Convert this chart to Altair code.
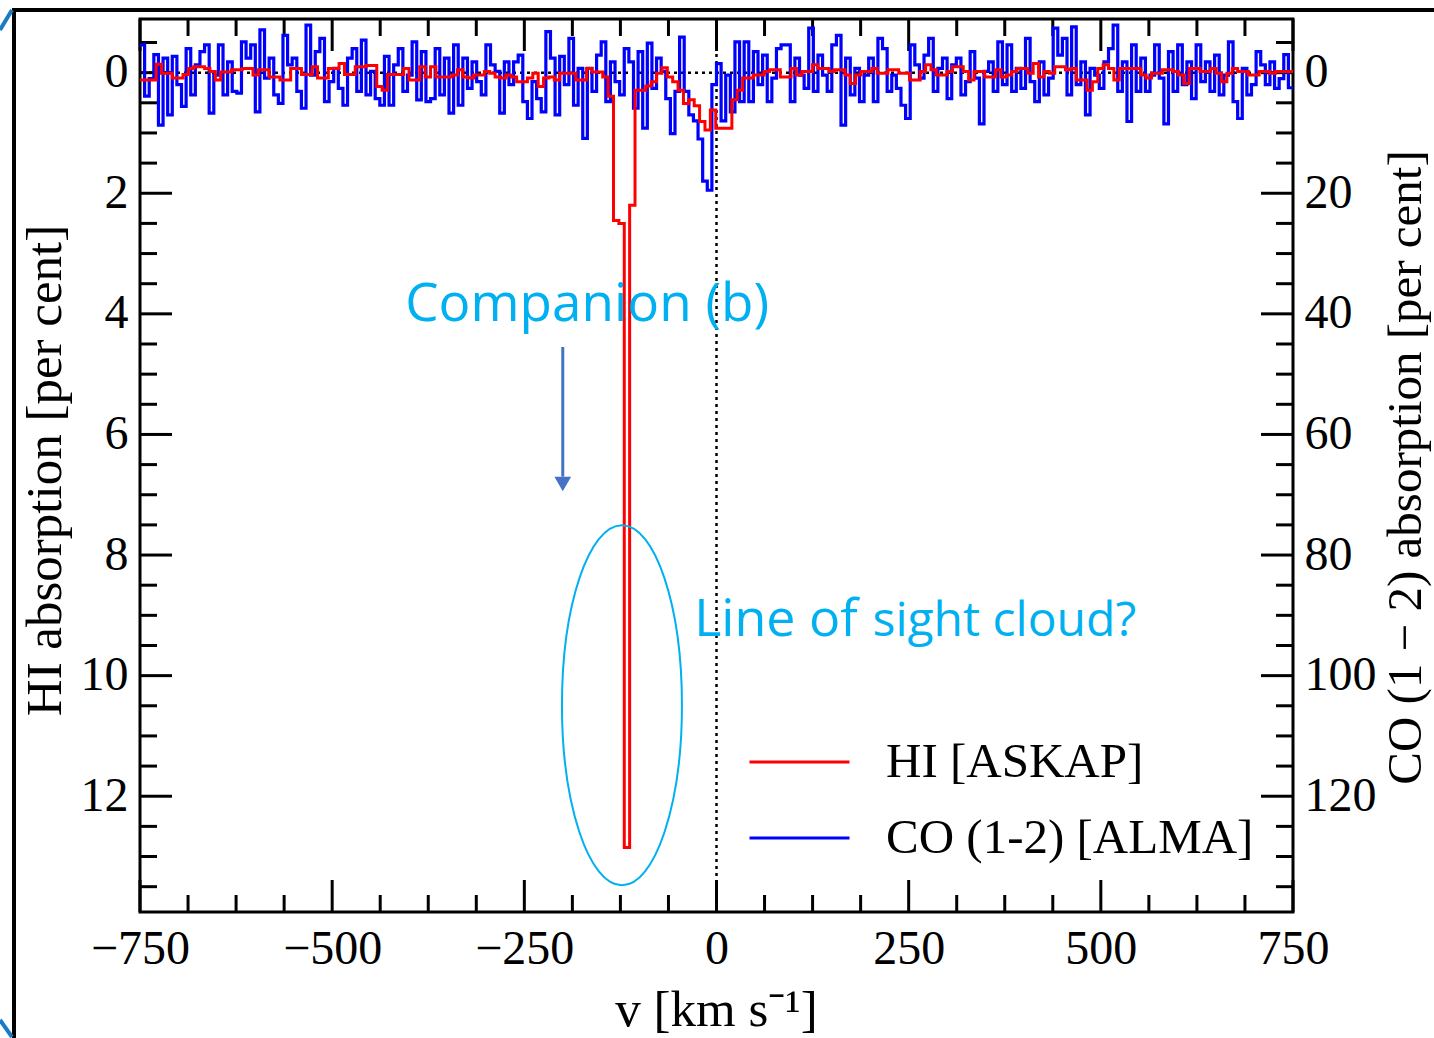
import altair as alt
import pandas as pd

# ---------------- layout ----------------
W, H = 1153, 893
V_MIN, V_MAX = -750, 750
Y_MIN, Y_MAX = -0.89, 13.92
SERIF = "Liberation Serif"
SANS = "Open Sans"

# ---------------- labels / ticks ----------------
HI_LABEL = "HI [ASKAP]"
CO_LABEL = "CO (1-2) [ALMA]"
X_TITLE = "v [km s\u207b\u00b9]"
LEFT_TITLE = "HI absorption [per cent]"
RIGHT_TITLE = "CO (1 \u2212 2) absorption [per cent]"

X_MAJOR = [-750, -500, -250, 0, 250, 500, 750]
X_MINOR = [-687.5, -625, -562.5, -437.5, -375, -312.5, -187.5, -125, -62.5,
           62.5, 125, 187.5, 312.5, 375, 437.5, 562.5, 625, 687.5]
Y_MAJOR = [0, 2, 4, 6, 8, 10, 12]
Y_MINOR = [-0.5, 0.5, 1, 1.5, 2.5, 3, 3.5, 4.5, 5, 5.5, 6.5, 7, 7.5, 8.5, 9, 9.5,
           10.5, 11, 11.5, 12.5, 13, 13.5]

# ---------------- HI [ASKAP] spectrum (per cent, 7 km/s channels from -750) ----------------
HI_DV = 7.0
HI_PART1 = [0.12, 0.12, 0.12, -0.14, 0.01, 0.01, 0.09, 0.09, 0.03, -0.07, -0.10, -0.10, -0.07, -0.02,
            0.12, -0.01, -0.01, -0.05, -0.05, -0.07, -0.07, 0.04, -0.05, -0.05, 0.07, 0.07, 0.12, 0.12,
            -0.07, -0.07, 0.03, 0.03, -0.10, 0.09, 0.09, -0.07, -0.07, -0.15, 0.03, 0.03, -0.10, -0.10,
            -0.12, -0.12, 0.23, 0.29, 0.03, 0.03, 0.03, -0.07, 0.12, 0.12, -0.10, 0.07]
HI_PART2 = [-0.10, 0.07, 0.07, 0.07, 0.04, -0.05, 0.07, 0.09, 0.04, 0.04, -0.02, 0.01, 0.07, 0.09,
            0.04, 0.07, 0.15, 0.15, 0.09, 0.01, 0.23, 0.09, 0.07, 0.12, 0.01, 0.01, 0.01, 0.12,
            0.12, -0.07, -0.01, -0.01, 0.07, 0.39, 2.45, 2.50, 12.85, 2.20, 0.29, 0.29, 0.22, 0.15,
            0.01, -0.08, 0.07, 0.15, 0.29, 0.51, 0.45, 0.55, 0.81, 0.95, 0.62, 0.92]
HI_PART3 = [0.92, 0.92, 0.45, 0.29, 0.09, 0.09, 0.04, 0.04, -0.02, -0.05, -0.05, 0.07, 0.07, -0.07,
            0.04, -0.02, -0.02, -0.13, -0.07, -0.07, -0.02, -0.05, -0.05, 0.04, 0.18, 0.04, -0.02,
            -0.02, -0.07, 0.01, 0.01, -0.05, -0.05, 0.01, 0.01, 0.12, 0.12, -0.02, -0.13, -0.05,
            0.04, 0.04, -0.02, -0.10, -0.10, -0.02, 0.12, -0.02, -0.02, 0.07, 0.07, -0.05, 0.07]
HI_PART4 = [0.04, -0.02, -0.07, -0.07, 0.01, -0.15, 0.07, -0.02, 0.01, -0.10, -0.10, -0.05, -0.07,
            0.12, 0.12, 0.29, 0.15, -0.07, -0.13, -0.07, 0.12, -0.07, -0.07, -0.07, -0.07, 0.04,
            0.09, 0.01, 0.01, -0.05, -0.05, -0.02, 0.04, 0.18, -0.07, -0.07, -0.02, -0.02, -0.07,
            0.01, 0.15, 0.01, -0.07, -0.02, -0.02, 0.04, 0.04, -0.02, -0.02, 0.01, -0.02, -0.02,
            -0.02, -0.02]

# ---------------- CO (1-2) [ALMA] spectrum (per cent, 6 km/s channels from -750) ----------------
CO_DV = 6.0
CO_PART1 = [-4.6, 3.9, 1.0, -3.0, 8.7, -2.4, 7.0, -2.7, 2.0, 5.6, -4.0, 3.7, -1.3, -3.5, -4.6, 6.7,
            0.4, -4.6, 3.7, -1.8, 3.1, 3.4, -5.1, -2.4, -4.6, 6.5, -7.1, 0.9, -2.4, 3.7, 5.1, -6.2,
            -1.3, -2.4, 3.1, 5.9, -7.9, 0.4, -3.5, -5.7, 4.8, 1.5, -0.7, 2.6, 5.4, -2.4, -4.0, 3.1,
            -5.4, 3.7, -0.2, 4.3, 5.4, -2.7, 5.4, -1.3, -4.0, 3.1, 0.4, -5.1, 4.5, -3.5, 4.8]
CO_PART2 = [4.3, -4.0, 3.7, -2.4, 6.7, -4.6, 5.4, -2.4, 2.6, -1.8, 1.5, 3.7, -4.6, -1.3, -0.2, 6.7,
            -1.8, 2.0, -1.8, -2.9, 4.8, 7.6, 1.5, 4.3, 6.5, -6.8, -2.4, 7.0, -2.7, 2.0, -5.7, 5.4,
            -0.7, 10.9, -0.7, 3.1, -2.9, -5.1, 4.8, -1.8, 1.5, 3.7, -4.0, -1.8, 5.9, -3.5, 9.2,
            -4.9, 2.6, -2.4, -0.2, 4.3, 10.1, 3.1, -5.9, 3.1, 7.0, 8.0, 11.0, 18.0, 19.5, 2.0]
CO_PART3 = [-1.5, 8.0, 0.4, 6.5, -5.1, 4.8, -5.1, 4.8, -3.5, 2.0, -2.9, 4.8, 0.9, -4.0, -4.6, -4.6,
            4.8, -2.4, 0.4, 2.6, -7.4, 3.1, -2.9, 0.4, 3.1, -4.6, -6.2, 8.7, -2.4, 3.7, -0.7, 4.8,
            0.4, -2.4, 4.8, -5.7, -4.0, 3.1, 0.4, 2.6, 5.4, 7.6, -4.6, -1.3, 0.9, -2.9, -5.7, 3.1,
            -0.7, -2.4, 4.3, -1.3, -2.4, 3.7, 1.5, -3.5, 0.9, 8.5, -0.2, -1.8, 3.1, -5.1, 2.0]
CO_PART4 = [-4.6, 3.1, -0.7, 2.6, -5.7, 1.5, 4.8, -1.8, 3.7, 0.9, -7.4, -2.9, -5.7, 3.7, -7.6, 2.0,
            -1.8, 7.0, -0.7, 0.4, 2.6, -1.8, -4.0, -7.9, 3.1, -1.8, 8.1, -4.6, 3.1, -2.4, 3.1, 0.4,
            -4.6, 0.9, 8.5, -3.5, 3.1, -4.6, 2.0, -1.8, 4.3, -4.6, 1.5, -1.8, 3.1, -2.9, 3.7, 0.4,
            -5.1, 4.8, 7.6, -0.7, 3.7, 2.0, -3.5, -1.3, 2.0, -1.8, 2.6, 1.0, -3.0, 2.5]

# ---------------- annotations (data units) ----------------
ANNO_TEXT = ["Companion (b)", "Line of", "sight cloud?"]
ANNO_V = [-405, -29, 203]
ANNO_Y = [4.12, 9.34, 9.34]
ANNO_SIZE = [53, 52, 48]
ARROW_V = -200
ARROW_Y = [4.55, 6.70]
ARROW_HEAD_Y = 6.82
ELLIPSE_V = -123
ELLIPSE_Y = 10.49

# ---------------- tables ----------------
hi_vals = HI_PART1 + HI_PART2 + HI_PART3 + HI_PART4
hi_df = pd.DataFrame({
    "v": [V_MIN + HI_DV * i for i in range(len(hi_vals))] + [V_MAX],
    "a": hi_vals + [hi_vals[-1]],
    "series": HI_LABEL,
})
co_vals = CO_PART1 + CO_PART2 + CO_PART3 + CO_PART4
co_df = pd.DataFrame({
    "v": [V_MIN + CO_DV * i for i in range(len(co_vals))] + [V_MAX],
    "co": co_vals + [co_vals[-1]],
    "series": CO_LABEL,
})

xscale = alt.Scale(domain=[V_MIN, V_MAX], nice=False, zero=False)
yscale = alt.Scale(domain=[Y_MIN, Y_MAX], reverse=True, nice=False, zero=False)
color_scale = alt.Scale(domain=[HI_LABEL, CO_LABEL], range=["#ff0000", "#0000ff"])

legend = alt.Legend(
    orient="none", legendX=608, legendY=723, title=None, padding=0,
    symbolType="stroke", symbolSize=10000, symbolStrokeWidth=3, clipHeight=40,
    rowPadding=27, labelOffset=35, labelFontSize=49, labelFont=SERIF,
    labelColor="black", labelLimit=600,
)

axis_common = dict(ticks=False, domain=False, grid=False, labelFont=SERIF, labelFontSize=48,
                   labelColor="black", titleFont=SERIF,
                   titleFontWeight="normal", titleColor="black", titleLimit=1200, labelLimit=300,
                   labelFlush=False)

# frame decorations of the slide
deco_black = alt.Chart(pd.DataFrame({"x": [-128, -126], "x2": [1294, -126],
                                     "y": [-9, -9], "y2": [-9, 1019]})).mark_rule(
    color="black", strokeWidth=4).encode(
    x=alt.X("x:Q", scale=None, axis=None), x2="x2:Q",
    y=alt.Y("y:Q", scale=None, axis=None), y2="y2:Q")
deco_blue = alt.Chart(pd.DataFrame({"x": [-140, -140], "x2": [-128, -128],
                                    "y": [11, 1001], "y2": [-9, 1018]})).mark_rule(
    color="#1a7ac4", strokeWidth=4).encode(
    x=alt.X("x:Q", scale=None, axis=None), x2="x2:Q",
    y=alt.Y("y:Q", scale=None, axis=None), y2="y2:Q")

# inward ticks
def xticks(vals, length):
    base = alt.Chart(pd.DataFrame({"t": vals})).mark_rule(color="black", strokeWidth=3)
    bottom = base.encode(x=alt.X("t:Q", scale=xscale, axis=None), y=alt.value(H), y2=alt.value(H - length))
    top = base.encode(x=alt.X("t:Q", scale=xscale, axis=None), y=alt.value(0), y2=alt.value(length))
    return [bottom, top]

def yticks(vals, length):
    base = alt.Chart(pd.DataFrame({"t": vals})).mark_rule(color="black", strokeWidth=3)
    left = base.encode(y=alt.Y("t:Q", scale=yscale, axis=None), x=alt.value(0), x2=alt.value(length))
    right = base.encode(y=alt.Y("t:Q", scale=yscale, axis=None), x=alt.value(W), x2=alt.value(W - length))
    return [left, right]

tick_layers = xticks(X_MAJOR, 32) + xticks(X_MINOR, 17) + yticks(Y_MAJOR, 32) + yticks(Y_MINOR, 17)

zero_h = alt.Chart(pd.DataFrame({"z": [0]})).mark_rule(
    color="black", strokeWidth=2.5, strokeDash=[3, 4]).encode(
    y=alt.Y("z:Q", scale=yscale, axis=None))
zero_v = alt.Chart(pd.DataFrame({"z": [0]})).mark_rule(
    color="black", strokeWidth=2.5, strokeDash=[3, 4]).encode(
    x=alt.X("z:Q", scale=xscale, axis=None))

co_line = alt.Chart(co_df).transform_calculate(a="datum.co / 10").mark_line(
    interpolate="step-after", strokeWidth=3.2, clip=True).encode(
    x=alt.X("v:Q", scale=xscale, axis=None),
    y=alt.Y("a:Q", scale=yscale, axis=alt.Axis(
        orient="right", values=Y_MAJOR, labelExpr="format(datum.value * 10, 'd')",
        labelPadding=11, title=RIGHT_TITLE, titleAngle=270, titleX=112, titleY=448,
        titleFontSize=49, titleAlign="center", titleBaseline="middle", **axis_common)),
    color=alt.Color("series:N", scale=color_scale, legend=legend),
)

hi_line = alt.Chart(hi_df).mark_line(
    interpolate="step-after", strokeWidth=3, clip=True).encode(
    x=alt.X("v:Q", scale=xscale, axis=alt.Axis(
        orient="bottom", values=X_MAJOR, labelPadding=13, title=X_TITLE, titleX=576, titleY=113,
        titleFontSize=51, titleAlign="center", titleBaseline="alphabetic", **axis_common)),
    y=alt.Y("a:Q", scale=yscale, axis=alt.Axis(
        orient="left", values=Y_MAJOR, labelPadding=12, title=LEFT_TITLE, titleAngle=270,
        titleFontSize=51, titleX=-95, titleY=451, titleAlign="center", titleBaseline="middle",
        **axis_common)),
    color=alt.Color("series:N", scale=color_scale, legend=legend),
)

ellipse = alt.Chart(pd.DataFrame({"v": [ELLIPSE_V], "a": [ELLIPSE_Y]})).mark_point(
    shape="M -0.3333 0 A 0.3333 1 0 1 0 0.3333 0 A 0.3333 1 0 1 0 -0.3333 0 Z",
    size=129600, filled=False, stroke="#00b0f0", strokeWidth=2, opacity=1).encode(
    x=alt.X("v:Q", scale=xscale, axis=None), y=alt.Y("a:Q", scale=yscale, axis=None))

arrow_line = alt.Chart(pd.DataFrame({"v": [ARROW_V], "a": [ARROW_Y[0]], "a2": [ARROW_Y[1]]})).mark_rule(
    color="#4472c4", strokeWidth=3).encode(
    x=alt.X("v:Q", scale=xscale, axis=None), y=alt.Y("a:Q", scale=yscale, axis=None), y2="a2:Q")
arrow_head = alt.Chart(pd.DataFrame({"v": [ARROW_V], "a": [ARROW_HEAD_Y]})).mark_point(
    shape="triangle-down", size=280, filled=True, color="#4472c4", opacity=1).encode(
    x=alt.X("v:Q", scale=xscale, axis=None), y=alt.Y("a:Q", scale=yscale, axis=None))

anno = alt.Chart(pd.DataFrame({"t": ANNO_TEXT, "v": ANNO_V, "a": ANNO_Y, "fs": ANNO_SIZE})).mark_text(
    align="left", baseline="alphabetic", font=SANS, color="#00b0f0").encode(
    x=alt.X("v:Q", scale=xscale, axis=None), y=alt.Y("a:Q", scale=yscale, axis=None),
    text="t:N", size=alt.Size("fs:Q", scale=None, legend=None))

chart = alt.layer(
    deco_black, deco_blue, zero_h, zero_v, *tick_layers, co_line, hi_line,
    ellipse, arrow_line, arrow_head, anno,
).resolve_axis(x="independent", y="independent").properties(
    width=W, height=H,
    autosize=alt.AutoSizeParams(type="none"),
    padding={"left": 140, "top": 19, "right": 141, "bottom": 126},
    background="white",
).configure_view(stroke="black", strokeWidth=3)

chart.save("out.html", embed_options={"renderer": "svg", "actions": False})
